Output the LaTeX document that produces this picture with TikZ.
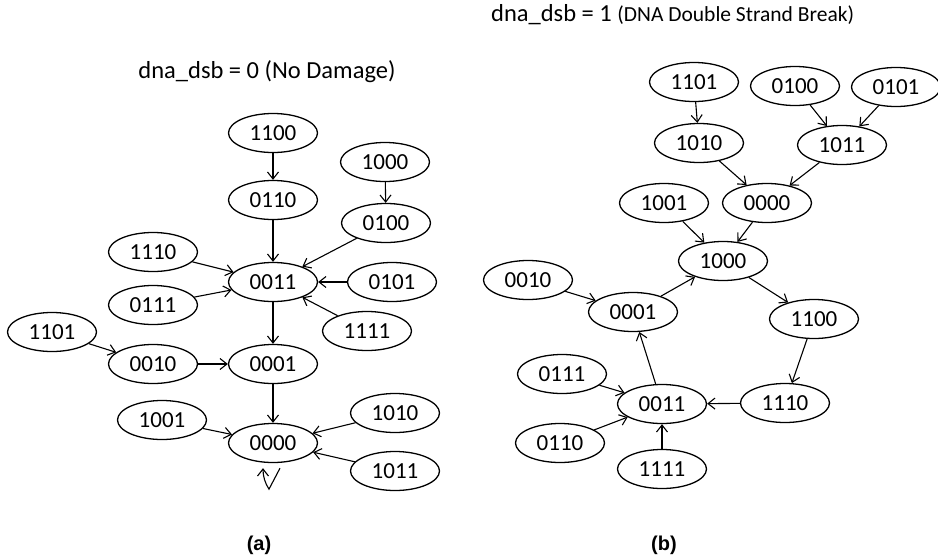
\documentclass[tikz,border=0pt]{standalone}
\usepackage{fontspec}
\setmainfont{Carlito}
\newfontfamily\capfont{Liberation Sans}
\usetikzlibrary{arrows.meta, shapes.geometric}

\begin{document}
\begin{tikzpicture}[
    x=1pt, y=1pt,
    >={Straight Barb[length=7pt, width=11pt]},
    % Node Styles
    state/.style={ellipse, draw, line width=1.3pt, inner sep=0pt,
                  minimum width=89pt, minimum height=39pt, font=\fontsize{23}{26}\selectfont},
    link/.style={->, line width=1.1pt},
    title/.style={font=\fontsize{24.5}{28}\selectfont, inner sep=0pt},
    caption/.style={font=\capfont\bfseries\fontsize{20}{24}\selectfont, inner sep=0pt}
]
\useasboundingbox (0,0) rectangle (938,-557);

% =========================================================
% LEFT GRAPH: dna_dsb = 0
% =========================================================
\node[title] (leftTitle) at (267,-72) {dna\_dsb = 0 (No Damage)};

\node[state] (a1100) at (273,-133) {1100};
\node[state] (a0110) at (273,-200) {0110};
\node[state] (a1000) at (385,-162) {1000};
\node[state] (a0100) at (386,-223) {0100};
\node[state] (a1110) at (153,-252) {1110};
\node[state] (a0011) at (273,-282) {0011};
\node[state] (a0101) at (392,-282) {0101};
\node[state] (a0111) at (153,-305) {0111};
\node[state] (a1111) at (367,-331) {1111};
\node[state] (a1101) at (52,-332) {1101};
\node[state] (a0010) at (153,-364) {0010};
\node[state] (a0001) at (273,-364) {0001};
\node[state] (a1001) at (162,-420) {1001};
\node[state] (a1010) at (395,-413) {1010};
\node[state] (a0000) at (273,-443) {0000};
\node[state] (a1011) at (395,-471) {1011};

\foreach \from/\to in {a1100/a0110, a0110/a0011, a1000/a0100, a0100/a0011,
                       a1110/a0011, a0111/a0011, a0101/a0011, a1111/a0011,
                       a0011/a0001, a1101/a0010, a0010/a0001, a0001/a0000,
                       a1001/a0000, a1010/a0000, a1011/a0000}
    \draw[link] (\from) -- (\to);

% self loop on 0000
\draw[link] ([shift={(7,-5)}]a0000.south) -- ++(-11,-21)
    .. controls +(-4,6) and +(0,-8) .. ([shift={(-10,-5)}]a0000.south);

\node[caption] (leftCap) at (259,-545) {(a)};

% =========================================================
% RIGHT GRAPH: dna_dsb = 1
% =========================================================
\node[title, anchor=west] (rightTitle) at (491,-15) {dna\_dsb = 1 {\fontsize{21.5}{24}\selectfont(DNA Double Strand Break)}};

\node[state] (b1101) at (694,-82) {1101};
\node[state] (b0100) at (795,-86) {0100};
\node[state] (b0101) at (896,-87) {0101};
\node[state] (b1010) at (699,-143) {1010};
\node[state] (b1011) at (842,-145) {1011};
\node[state] (b1001) at (664,-203) {1001};
\node[state] (b0000) at (767,-203) {0000};
\node[state] (b1000) at (723,-261) {1000};
\node[state] (b0010) at (528,-280) {0010};
\node[state] (b0001) at (633,-312) {0001};
\node[state] (b1100) at (814,-319) {1100};
\node[state] (b0111) at (562,-374) {0111};
\node[state] (b0011) at (662,-404) {0011};
\node[state] (b1110) at (785,-403) {1110};
\node[state] (b0110) at (560,-443) {0110};
\node[state] (b1111) at (662,-469) {1111};

\foreach \from/\to in {b1101/b1010, b0100/b1011, b0101/b1011, b1010/b0000,
                       b1011/b0000, b1001/b1000, b0000/b1000, b1000/b1100,
                       b1100/b1110, b1110/b0011, b0011/b0001, b0001/b1000,
                       b0010/b0001, b0111/b0011, b0110/b0011, b1111/b0011}
    \draw[link] (\from) -- (\to);

\node[caption] (rightCap) at (664,-545) {(b)};

\end{tikzpicture}
\end{document}
